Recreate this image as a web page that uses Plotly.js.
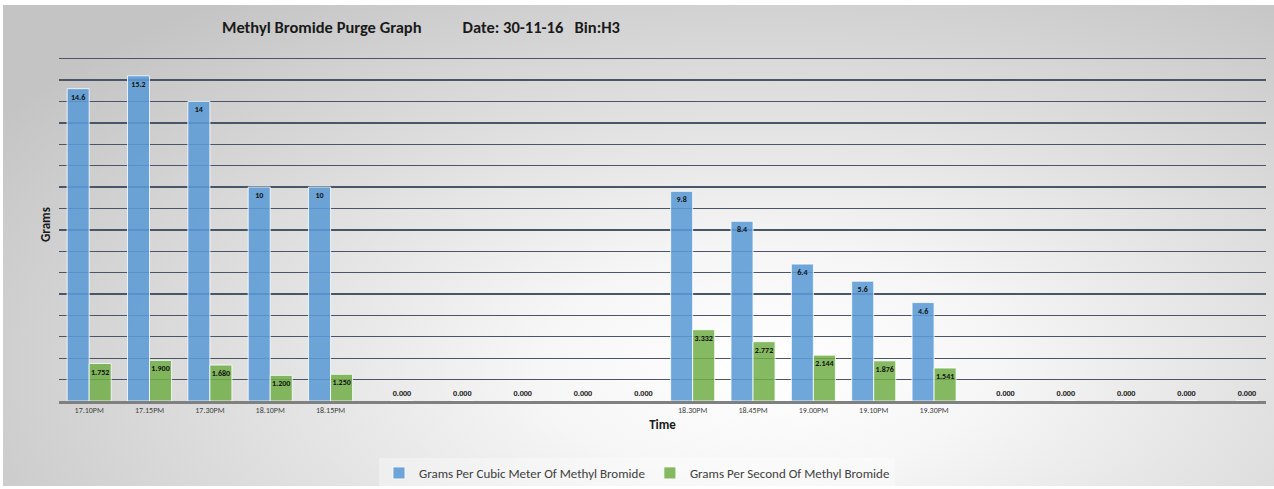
<!DOCTYPE html>
<html>
<head>
<meta charset="utf-8">
<script src="https://cdn.plot.ly/plotly-3.0.1.min.js"></script>
<style>
  html, body { margin: 0; padding: 0; background: #ffffff; }
  #frame {
    position: absolute; left: 3px; top: 5px; width: 1271px; height: 481px;
    background: radial-gradient(ellipse 72% 95% at 60% 75%, #ffffff 0%, #f6f6f6 25%, #dedede 60%, #c4c4c4 100%);
  }
  #chart { position: absolute; left: 0; top: 0; width: 1274px; height: 489px; }
</style>
</head>
<body>
<div id="frame"></div>
<div id="chart"></div>
<script>
// Category labels (blank entries are unlabelled slots)
const timeLabels = ['17.10PM','17.15PM','17.30PM','18.10PM','18.15PM','','','','','',
                    '18.30PM','18.45PM','19.00PM','19.10PM','19.30PM','','','','',''];
// Grams per cubic meter of methyl bromide
const gramsPerCubicMeter = [14.6, 15.2, 14, 10, 10, null, null, null, null, null,
                            9.8, 8.4, 6.4, 5.6, 4.6, null, null, null, null, null];
// Grams per second of methyl bromide
const gramsPerSecond = [1.752, 1.900, 1.680, 1.200, 1.250, 0, 0, 0, 0, 0,
                        3.332, 2.772, 2.144, 1.876, 1.541, 0, 0, 0, 0, 0];

const xs = timeLabels.map((_, i) => i);
const fontFam = 'Carlito, Lato, "Open Sans", sans-serif';

const traceBlue = {
  type: 'bar',
  name: 'Grams Per Cubic Meter Of Methyl Bromide',
  x: xs,
  y: gramsPerCubicMeter,
  text: gramsPerCubicMeter.map(v => v === null ? '' : '<b>' + String(v) + '</b>'),
  textposition: 'inside',
  insidetextanchor: 'end',
  constraintext: 'none',
  textangle: 0,
  textfont: { family: fontFam, size: 8, color: '#111111' },
  marker: { color: 'rgba(91,155,213,0.88)', line: { color: 'rgba(255,255,255,0.8)', width: 1 } },
  hoverinfo: 'skip',
  cliponaxis: false
};

const traceGreen = {
  type: 'bar',
  name: 'Grams Per Second Of Methyl Bromide',
  x: xs,
  y: gramsPerSecond,
  text: gramsPerSecond.map(v => '<b>' + v.toFixed(3) + '</b>'),
  textposition: gramsPerSecond.map(v => v === 0 ? 'outside' : 'inside'),
  insidetextanchor: 'end',
  constraintext: 'none',
  textangle: 0,
  textfont: { family: fontFam, size: 8, color: '#111111' },
  marker: { color: 'rgba(112,173,71,0.85)', line: { color: 'rgba(255,255,255,0.8)', width: 1 } },
  hoverinfo: 'skip',
  cliponaxis: false
};

const nb = n => '\u00A0'.repeat(n);

const layout = {
  width: 1274,
  height: 489,
  paper_bgcolor: 'rgba(0,0,0,0)',
  plot_bgcolor: 'rgba(0,0,0,0)',
  margin: { l: 59, r: 8, t: 47.5, b: 88, autoexpand: false },
  font: { family: fontFam, color: '#404040' },
  title: {
    text: '<b>Methyl Bromide Purge Graph' + nb(11) + 'Date: 30-11-16' + nb(3) + 'Bin:H3</b>',
    font: { family: fontFam, size: 16.5, color: '#1a1a1a' },
    xref: 'container', yref: 'container',
    x: 222 / 1274, xanchor: 'left',
    y: 1 - 27 / 489, yanchor: 'middle'
  },
  barmode: 'group',
  bargap: 0.27,
  bargroupgap: 0,
  showlegend: true,
  legend: {
    orientation: 'h',
    xref: 'container', yref: 'container',
    x: 0.5, xanchor: 'center',
    y: 1 - 473 / 489, yanchor: 'middle',
    font: { family: fontFam, size: 13, color: '#404040' },
    bgcolor: 'rgba(255,255,255,0.35)',
    itemwidth: 30,
    traceorder: 'normal'
  },
  xaxis: {
    tickmode: 'array',
    tickvals: xs,
    ticktext: timeLabels,
    range: [-0.5, timeLabels.length - 0.5],
    showgrid: false,
    zeroline: false,
    showline: true,
    linecolor: '#808080',
    linewidth: 2.5,
    ticks: '',
    tickfont: { family: fontFam, size: 8, color: '#404040' },
    title: { text: '<b>Time</b>', font: { family: fontFam, size: 13, color: '#1a1a1a' }, standoff: 6 }
  },
  yaxis: {
    range: [0, 16.5],
    tickmode: 'linear',
    dtick: 1,
    tick0: 0,
    showticklabels: false,
    showgrid: true,
    gridcolor: '#4a5668',
    gridwidth: 1.3,
    zeroline: false,
    showline: false,
    ticks: '',
    title: { text: '<b>Grams</b>', font: { family: fontFam, size: 13, color: '#1a1a1a' }, standoff: 4 }
  }
};

Plotly.newPlot('chart', [traceBlue, traceGreen], layout, { displayModeBar: false, staticPlot: true });
</script>
</body>
</html>
